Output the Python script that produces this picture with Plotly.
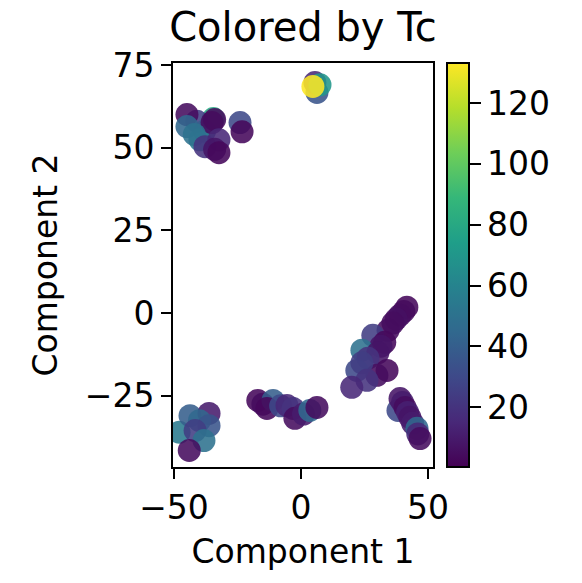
import plotly.graph_objects as go

# Cluster points: Component 1, Component 2, Tc
comp1 = [
    # top-left cluster
    -34.5, -41.0, -44.9, -44.9, -38.0, -39.8, -35.0, -34.0, -42.0, -37.8, -32.3, -34.0, -32.3, -24.0, -23.2,
    # top cluster
    5.5, 6.3, 7.5, 4.7,
    # bottom-left cluster
    -48.0, -43.7, -36.2, -40.0, -36.2, -41.7, -38.2, -44.0,
    # bottom middle chain
    -17.0, -15.0, -11.0, -13.4, -8.0, -5.5, -3.1, -2.4, 1.0, 3.5, 6.3,
    # right diagonal chain
    41.7, 40.5, 39.0, 37.5, 36.2, 34.3, 28.3, 33.0, 31.5, 24.0, 30.3, 26.4, 33.9, 29.9, 22.0, 24.0, 26.0, 20.0,
    # right lower chain
    38.2, 39.0, 40.0, 41.0, 42.0, 42.9, 44.0, 45.7, 46.0, 46.9,
]
comp2 = [
    58.8, 58.0, 60.0, 56.4, 55.0, 52.4, 57.6, 58.5, 54.0, 50.3, 52.4, 49.5, 48.5, 57.6, 54.8,
    69.7, 66.7, 69.0, 68.5,
    -36.0, -31.0, -30.3, -32.5, -34.0, -35.5, -38.5, -41.5,
    -26.4, -27.5, -26.4, -28.8, -28.0, -27.9, -28.8, -31.8, -30.5, -29.4, -28.5,
    1.8, 0.5, -0.6, -1.8, -3.0, -5.2, -6.7, -8.8, -10.0, -11.2, -12.0, -13.6, -17.3, -18.8, -17.3, -15.0, -20.3, -22.4,
    -29.4, -25.8, -27.0, -28.5, -30.0, -31.5, -33.3, -34.8, -36.5, -37.9,
]
tc = [
    80, 25, 5, 45, 40, 55, 5, 4, 50, 20, 15, 8, 3, 30, 3,
    15, 35, 70, 133,
    55, 40, 10, 45, 35, 25, 50, 5,
    3, 5, 40, 3, 30, 15, 20, 5, 10, 45, 5,
    3, 4, 5, 6, 5, 5, 25, 3, 8, 50, 8, 20, 3, 5, 30, 25, 20, 15,
    30, 8, 10, 5, 12, 8, 10, 45, 15, 5,
]

x_ticks = [-50, 0, 50]
x_ticktext = ["\u221250", "0", "50"]
y_ticks = [-25, 0, 25, 50, 75]
y_ticktext = ["\u221225", "0", "25", "50", "75"]
cb_ticks = [20, 40, 60, 80, 100, 120]

FONT = "DejaVu Sans"

fig = go.Figure(
    go.Scatter(
        x=comp1,
        y=comp2,
        mode="markers",
        marker=dict(
            size=23,
            color=tc,
            colorscale="Viridis",
            cmin=0.3,
            cmax=133.2,
            opacity=0.88,
            line=dict(width=0),
            colorbar=dict(
                thickness=22,
                x=1.054,
                xanchor="left",
                xpad=0,
                ypad=0,
                y=0.5,
                len=1,
                lenmode="fraction",
                outlinewidth=2,
                outlinecolor="black",
                ticks="outside",
                ticklen=11,
                tickwidth=2,
                tickcolor="black",
                tickvals=cb_ticks,
                tickfont=dict(family=FONT, size=33, color="black"),
            ),
        ),
    )
)

axis_common = dict(
    showgrid=False,
    zeroline=False,
    showline=True,
    linecolor="black",
    linewidth=2,
    mirror=True,
    ticks="outside",
    ticklen=10,
    tickwidth=2,
    tickcolor="black",
    tickfont=dict(family=FONT, size=33, color="black"),
)

fig.update_layout(
    width=582,
    height=583,
    margin=dict(l=173, r=149, t=63, b=116),
    plot_bgcolor="white",
    paper_bgcolor="white",
    showlegend=False,
    title=dict(
        text="Colored by Tc",
        font=dict(family=FONT, size=40, color="black"),
        x=(173 + 433) / 2 / 582,
        xanchor="center",
        yref="container",
        y=1 - 27 / 583,
        yanchor="middle",
    ),
    xaxis=dict(
        range=[-50.4, 52.0],
        tickvals=x_ticks,
        ticktext=x_ticktext,
        title=dict(text="Component 1", font=dict(family=FONT, size=33, color="black"), standoff=14),
        **axis_common,
    ),
    yaxis=dict(
        range=[-46.5, 75.6],
        tickvals=y_ticks,
        ticktext=y_ticktext,
        title=dict(text="Component 2", font=dict(family=FONT, size=33, color="black"), standoff=17),
        **axis_common,
    ),
)

fig.write_html("out.html")
